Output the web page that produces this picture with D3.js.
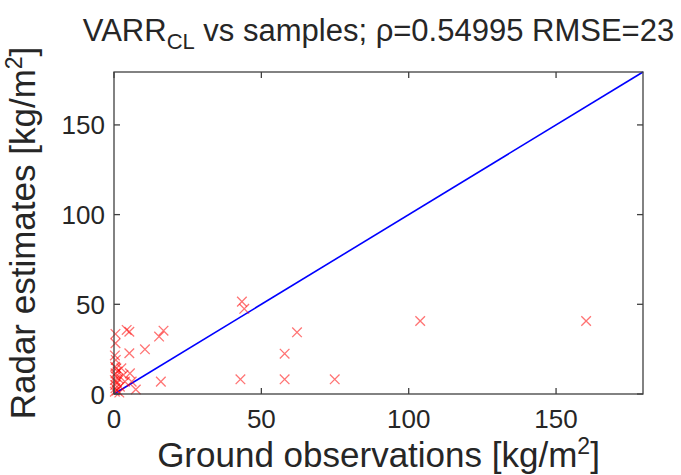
<!DOCTYPE html>
<html>
<head>
<meta charset="utf-8">
<script src="https://cdn.jsdelivr.net/npm/d3@7"></script>
<style>
  body { margin: 0; background: #fff; }
  text { font-family: "Liberation Sans", Arial, sans-serif; fill: #262626; }
</style>
</head>
<body>
<svg id="chart" width="681" height="475"></svg>
<script>
// ground observations vs radar estimates [kg/m2]
var obsX = [0.5, 0.5, 0.3, 0.6, 0.4, 0.8, 0.5, 1.2, 0.6, 1.5, 0.3, 0.9, 0.4, 2.0, 0.5, 1.0, 0.3, 1.8,
	3.2, 3.7, 2.5, 4.3, 5.2, 5.2, 5.4, 6.0, 7.4, 10.5, 15.3, 16.8, 15.9,
	43.4, 44.2, 42.9, 57.9, 57.9, 62.1, 74.9, 103.9, 160.2];
var radarY = [33.5, 28.3, 21.5, 19.0, 15.2, 14.3, 11.5, 12.5, 9.7, 8.7, 7.8, 6.5, 5.0, 4.1, 3.2, 2.0, 1.3, 0.8,
	10.6, 6.9, 14.3, 35.7, 34.7, 22.7, 11.5, 6.9, 2.5, 24.9, 32.0, 35.3, 6.9,
	51.5, 47.5, 8.2, 22.5, 8.2, 34.4, 8.2, 40.7, 40.7];
var axisMax = 179.5;
var tickVals = [0, 50, 100, 150];

var margin = { top: 72, right: 38, bottom: 81, left: 114 },
	width = 681 - margin.left - margin.right,
	height = 475 - margin.top - margin.bottom;

var svg = d3.select('#chart');
var g = svg.append('g').attr('transform', 'translate(' + margin.left + ',' + margin.top + ')');

var x = d3.scaleLinear().domain([0, axisMax]).range([0, width]);
var y = d3.scaleLinear().domain([0, axisMax]).range([height, 0]);

var axisColor = '#404040';
var tl = 6;

// 1:1 line
g.append('line')
	.attr('x1', x(0)).attr('y1', y(0))
	.attr('x2', x(axisMax)).attr('y2', y(axisMax))
	.attr('stroke', '#0000ff')
	.attr('stroke-width', 1.6);

// markers
var pts = obsX.map(function (d, i) { return { x: d, y: radarY[i] }; });
var s = 4.8;
g.selectAll('path.pt')
	.data(pts).enter()
	.append('path')
	.attr('class', 'pt')
	.attr('d', function (d) {
		var cx = x(d.x), cy = y(d.y);
		return 'M' + (cx - s) + ',' + (cy - s) + 'L' + (cx + s) + ',' + (cy + s) +
			'M' + (cx - s) + ',' + (cy + s) + 'L' + (cx + s) + ',' + (cy - s);
	})
	.attr('stroke', '#ff0000')
	.attr('stroke-opacity', 0.55)
	.attr('stroke-width', 1.3)
	.attr('fill', 'none');

// box
g.append('rect')
	.attr('width', width).attr('height', height)
	.attr('fill', 'none')
	.attr('stroke', axisColor)
	.attr('stroke-width', 1.3);

// ticks on all sides
tickVals.forEach(function (v) {
	g.append('line').attr('x1', x(v)).attr('x2', x(v)).attr('y1', height).attr('y2', height - tl)
		.attr('stroke', axisColor).attr('stroke-width', 1.3);
	g.append('line').attr('x1', x(v)).attr('x2', x(v)).attr('y1', 0).attr('y2', tl)
		.attr('stroke', axisColor).attr('stroke-width', 1.3);
	g.append('line').attr('y1', y(v)).attr('y2', y(v)).attr('x1', 0).attr('x2', tl)
		.attr('stroke', axisColor).attr('stroke-width', 1.3);
	g.append('line').attr('y1', y(v)).attr('y2', y(v)).attr('x1', width).attr('x2', width - tl)
		.attr('stroke', axisColor).attr('stroke-width', 1.3);
});

// tick labels
g.selectAll('text.xt')
	.data(tickVals).enter()
	.append('text')
	.attr('class', 'xt')
	.attr('x', function (d) { return x(d); })
	.attr('y', height + 34)
	.attr('text-anchor', 'middle')
	.style('font-size', '26px')
	.text(function (d) { return d; });

g.selectAll('text.yt')
	.data(tickVals).enter()
	.append('text')
	.attr('class', 'yt')
	.attr('x', -9)
	.attr('y', function (d) { return y(d) + 9.5; })
	.attr('text-anchor', 'end')
	.style('font-size', '26px')
	.text(function (d) { return d; });

// axis labels
var xl = svg.append('text')
	.attr('x', margin.left + width / 2)
	.attr('y', 467)
	.attr('text-anchor', 'middle')
	.style('font-size', '35px');
xl.append('tspan').text('Ground observations [kg/m');
xl.append('tspan').attr('dy', -13).style('font-size', '23px').text('2');
xl.append('tspan').attr('dy', 13).text(']');

var yl = svg.append('text')
	.attr('transform', 'translate(35,' + (margin.top + height / 2) + ') rotate(-90)')
	.attr('text-anchor', 'middle')
	.style('font-size', '35px');
yl.append('tspan').text('Radar estimates [kg/m');
yl.append('tspan').attr('dy', -13).style('font-size', '23px').text('2');
yl.append('tspan').attr('dy', 13).text(']');

// title
var tt = svg.append('text')
	.attr('x', margin.left + width / 2)
	.attr('y', 41)
	.attr('text-anchor', 'middle')
	.style('font-size', '31px');
tt.append('tspan').text('VARR');
tt.append('tspan').attr('dy', 8).style('font-size', '22px').text('CL');
tt.append('tspan').attr('dy', -8).text(' vs samples; \u03C1=0.54995 RMSE=23');
</script>
</body>
</html>
